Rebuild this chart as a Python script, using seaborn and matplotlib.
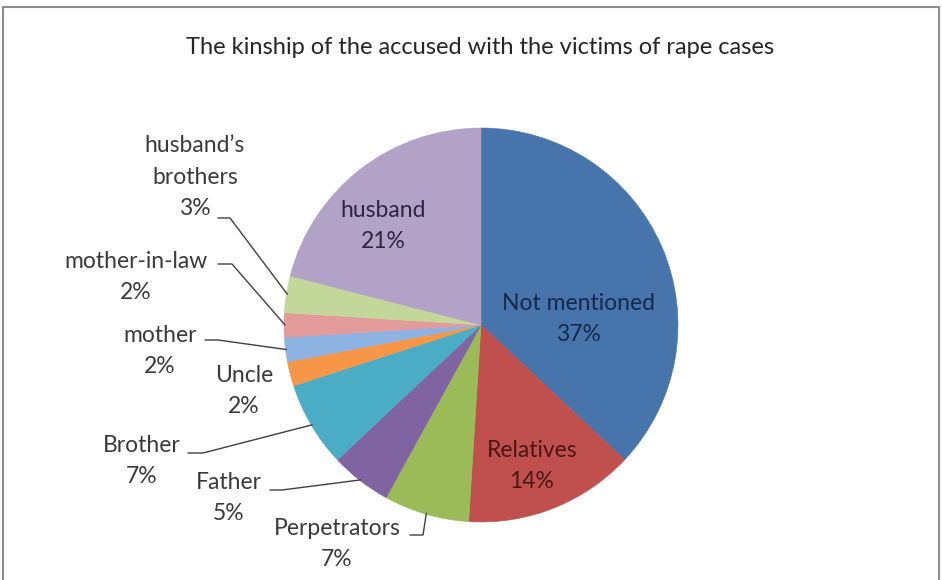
import matplotlib
matplotlib.use("Agg")
import matplotlib.pyplot as plt
import seaborn as sns
import numpy as np
from matplotlib.patches import Rectangle

# ---- data ----
title = "The kinship of the accused with the victims of rape cases"
categories = ["Not mentioned", "Relatives", "Perpetrators", "Father", "Brother",
              "Uncle", "mother", "mother-in-law", "husband\u2019s\nbrothers", "husband"]
values = [37, 14, 7, 5, 7, 2, 2, 2, 3, 21]
colors = ["#4874ac", "#c0504d", "#9bbb59", "#8064a2", "#4bacc6",
          "#f79646", "#8db3e2", "#e29a9a", "#c4d79b", "#b3a2c7"]

sns.set_theme(style="white")
plt.rcParams['font.family'] = ['Lato', 'DejaVu Sans']

W, H = 942, 580
fig = plt.figure(figsize=(W / 100, H / 100), dpi=100)
ax = fig.add_axes([0, 0, 1, 1])

def P(x, y):
    return (x, H - y)

cx, cy, R = 481, 325, 197
wedges, _ = ax.pie(values, colors=colors, startangle=90, counterclock=False,
                   center=P(cx, cy), radius=R, frame=True,
                   wedgeprops=dict(linewidth=0))
for w in wedges:
    w.set_edgecolor(w.get_facecolor())
    w.set_linewidth(0.4)
ax.set_xlim(0, W)
ax.set_ylim(0, H)
ax.set_aspect('equal')
ax.axis('off')

# title
ax.text(*P(480, 47), title, ha='center', va='center', fontsize=17, color='#262626')

# label layout (pixel positions of label centres)
label_pos = {0: (578, 319), 1: (532, 466), 9: (383, 226),
             8: (195, 177), 7: (136, 277), 6: (160, 351), 5: (244, 391),
             4: (142, 461), 3: (229, 498), 2: (337, 544)}
inside_col = {0: "#17294a", 1: "#4a1616", 9: "#2f2540"}
leaders = {8: [(218, 218), (230, 218)], 7: [(218, 264), (232, 264)],
           6: [(205, 340), (218, 340)], 4: [(188, 453), (203, 453)],
           3: [(270, 490), (282, 490)], 2: [(410, 535), (423, 535)]}

for i, (cat, v) in enumerate(zip(categories, values)):
    x, y = label_pos[i]
    col = inside_col.get(i, "#3a3a3a")
    ax.text(*P(x, y), f"{cat}\n{v}%", ha='center', va='center', fontsize=16.5,
            color=col, linespacing=1.6)

for i, pts in leaders.items():
    w = wedges[i]
    mid = np.deg2rad((w.theta1 + w.theta2) / 2)
    ex = w.center[0] + (w.r - 1) * np.cos(mid)
    ey = w.center[1] + (w.r - 1) * np.sin(mid)
    xs = [p[0] for p in pts] + [ex]
    ys = [H - p[1] for p in pts] + [ey]
    ax.plot(xs, ys, color="#404040", lw=1.0)

# chart frame
ax.add_patch(Rectangle((3, -10), 936, H - 7 + 10, fill=False,
                       edgecolor="#8c8c8c", lw=1.5, clip_on=False))

fig.savefig("out.png", dpi=100)
